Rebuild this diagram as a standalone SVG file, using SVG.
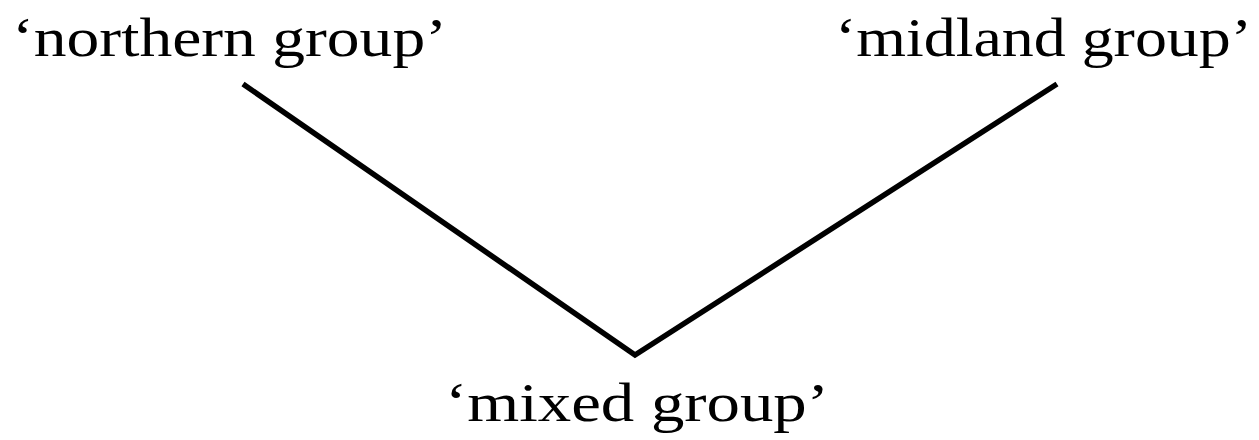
<svg xmlns="http://www.w3.org/2000/svg" width="1259" height="440" viewBox="0 0 1259 440">
<style>
.lbl{font-family:"Liberation Serif","DejaVu Serif",serif;font-size:55px;fill:#000}
.edge{stroke:#000;stroke-width:5.5;fill:none;stroke-linecap:butt}
</style>
<rect width="1259" height="440" fill="#fff"/>
<g id="connectors">
<path class="edge" d="M243,84 L635,355 L1057,84"/>
</g>
<g id="northern"><text class="lbl" x="12" y="56" textLength="435" lengthAdjust="spacingAndGlyphs">‘northern group’</text></g>
<g id="midland"><text class="lbl" x="835" y="56" textLength="417" lengthAdjust="spacingAndGlyphs">‘midland group’</text></g>
<g id="mixed"><text class="lbl" x="445" y="421" textLength="384" lengthAdjust="spacingAndGlyphs">‘mixed group’</text></g>
</svg>
